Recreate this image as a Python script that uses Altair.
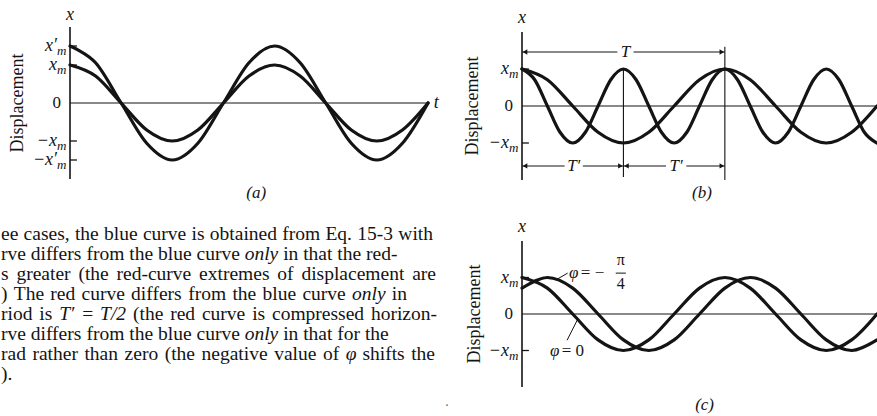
import altair as alt
import pandas as pd

INK = "#141414"
SERIF = "Liberation Serif"

# ---------------------------------------------------------------------------
# Curve samples: time in units of the period T, displacement in units of x_m
# ---------------------------------------------------------------------------
T_EIGHTHS = [0, 0.125, 0.25, 0.375, 0.5, 0.625, 0.75, 0.875, 1.0,
             1.125, 1.25, 1.375, 1.5, 1.625, 1.75]
T_SIXTEENTHS = [0, 0.0625, 0.125, 0.1875, 0.25, 0.3125, 0.375, 0.4375, 0.5,
                0.5625, 0.625, 0.6875, 0.75, 0.8125, 0.875, 0.9375, 1.0,
                1.0625, 1.125, 1.1875, 1.25, 1.3125, 1.375, 1.4375, 1.5,
                1.5625, 1.625, 1.6875, 1.75]

# (a) same period, different amplitude
A_BLUE = [1.0, 0.71, 0.0, -0.71, -1.0, -0.71, 0.0, 0.71, 1.0,
          0.71, 0.0, -0.71, -1.0, -0.71, 0.0]
A_RED = [1.5, 1.06, 0.0, -1.06, -1.5, -1.06, 0.0, 1.06, 1.5,
         1.06, 0.0, -1.06, -1.5, -1.06, 0.0]

# (b) same amplitude, period T and T' = T/2
B_BLUE = [1.0, 0.71, 0.0, -0.71, -1.0, -0.71, 0.0, 0.71, 1.0,
          0.71, 0.0, -0.71, -1.0, -0.71, 0.0]
B_RED = [1.0, 0.71, 0.0, -0.71, -1.0, -0.71, 0.0, 0.71, 1.0,
         0.71, 0.0, -0.71, -1.0, -0.71, 0.0, 0.71, 1.0,
         0.71, 0.0, -0.71, -1.0, -0.71, 0.0, 0.71, 1.0,
         0.71, 0.0, -0.71, -1.0]

# (c) phase constant 0 and -pi/4
C_PHI_ZERO = [1.0, 0.71, 0.0, -0.71, -1.0, -0.71, 0.0, 0.71, 1.0,
              0.71, 0.0, -0.71, -1.0, -0.71, 0.0]
C_PHI_QUARTER = [0.71, 1.0, 0.71, 0.0, -0.71, -1.0, -0.71, 0.0, 0.71,
                 1.0, 0.71, 0.0, -0.71, -1.0, -0.71]

# axis tick values and their labels
A_TICKS = [1.5, 1.0, -1.0, -1.5]
A_TICK_TEXT = ["x\u2032", "x", "\u2212x", "\u2212x\u2032"]
BC_TICKS = [1.0, -1.0]
BC_TICK_TEXT = ["x", "\u2212x"]

CAPTIONS = ["(a)", "(b)", "(c)"]
AXIS_TITLE = "Displacement"

# body text; words between underscores are set in italics
PARAGRAPH = [
    "ee cases, the blue curve is obtained from Eq. 15-3 with",
    "rve differs from the blue curve _only_ in that the red-",
    "s greater (the red-curve extremes of displacement are",
    ") The red curve differs from the blue curve _only_ in",
    "riod is _T\u2032_ = _T/2_ (the red curve is compressed horizon-",
    "rve differs from the blue curve _only_ in that for the",
    "rad rather than zero (the negative value of _\u03c6_ shifts the",
    ").",
]
# right edge of each set line (None: natural word spacing)
LINE_RIGHT = [433, None, 436, 407, 437, None, 435, None]


# ---------------------------------------------------------------------------
# helpers
# ---------------------------------------------------------------------------
def sc(domain, rng):
    return alt.Scale(domain=domain, range=rng, nice=False, zero=False)


def curves_frame(pairs):
    frames = []
    for name, ts, vs in pairs:
        frames.append(pd.DataFrame({"t": ts, "v": vs, "curve": name}))
    return pd.concat(frames, ignore_index=True)


def label(X, Y, t, v, s, size=17, italic=False, align="center", angle=0, **kw):
    props = dict(font=SERIF, fontSize=size, align=align, baseline="middle", color=INK)
    if italic:
        props["fontStyle"] = "italic"
    if angle:
        props["angle"] = angle
    props.update(kw)
    return alt.Chart(pd.DataFrame({"t": [t], "v": [v], "s": [s]})).mark_text(
        **props).encode(x=X, y=Y, text="s:N")


def panel(xs, ys, curves, ticks, tick_text, caption, t_cap, v_cap,
          v_xlabel, t_title, extra=None, t_label=False):
    X = alt.X("t:Q", scale=xs, axis=None)
    Y = alt.Y("v:Q", scale=ys, axis=None)

    zero = alt.Chart(pd.DataFrame({"t": [0.0], "t2": [1.75], "v": [0.0]})).mark_rule(
        color=INK, strokeWidth=1.2).encode(x=X, x2=alt.X2("t2"), y=Y)
    vaxis = alt.Chart(pd.DataFrame({"t": [0.0], "v": [-2.0], "v2": [2.0]})).mark_rule(
        color=INK, strokeWidth=1.6).encode(x=X, y=Y, y2=alt.Y2("v2"))
    tk = pd.DataFrame({"t": [0.0] * len(ticks), "t2": [0.034] * len(ticks),
                       "v": ticks, "lab": tick_text, "sub": ["m"] * len(ticks)})
    tick_marks = alt.Chart(tk).mark_rule(color=INK, strokeWidth=1.3).encode(
        x=X, x2=alt.X2("t2"), y=Y)
    tick_main = alt.Chart(tk).mark_text(
        font=SERIF, fontSize=18, fontStyle="italic", align="right",
        baseline="middle", xOffset=-13, color=INK).encode(x=X, y=Y, text="lab:N")
    tick_sub = alt.Chart(tk).mark_text(
        font=SERIF, fontSize=13, fontStyle="italic", align="left",
        baseline="middle", xOffset=-13, yOffset=5, color=INK).encode(x=X, y=Y, text="sub:N")

    layers = [
        zero, vaxis, tick_marks, tick_main, tick_sub,
        label(X, Y, 0.0, 0.0, "0", size=17, align="right", xOffset=-9),
        label(X, Y, 0.0, v_xlabel, "x", size=18, italic=True),
        label(X, Y, t_title, 0.0, AXIS_TITLE, size=18, angle=270),
        label(X, Y, t_cap, v_cap, caption, size=17, italic=True),
    ]
    if t_label:
        layers.append(label(X, Y, 1.79, 0.0, "t", size=18, italic=True))
    if extra is not None:
        layers += extra(X, Y)
    layers.append(alt.Chart(curves).mark_line(
        color=INK, strokeWidth=3.2, interpolate="cardinal", strokeCap="round").encode(
        x=X, y=Y, detail="curve:N", order="t:Q"))
    return alt.layer(*layers)


# ---------------------------------------------------------------------------
# panel (a)
# ---------------------------------------------------------------------------
AX = sc([0, 1.75], [70, 428])
AY = sc([-2, 2], [179, 27])
panel_a = panel(
    AX, AY,
    curves_frame([("blue", T_EIGHTHS, A_BLUE), ("red", T_EIGHTHS, A_RED)]),
    A_TICKS, A_TICK_TEXT, CAPTIONS[0], 0.91, -2.37, 2.32, -0.254, t_label=True)


# ---------------------------------------------------------------------------
# panel (b): period brackets T and T'
# ---------------------------------------------------------------------------
def b_extra(X, Y):
    seg = pd.DataFrame({
        "t":  [0.0, 0.55, 0.0, 0.30, 0.5, 0.81, 0.5, 1.0],
        "t2": [0.47, 1.0, 0.21, 0.5, 0.71, 1.0, 0.5, 1.0],
        "v":  [1.46, 1.46, -1.62, -1.62, -1.62, -1.62, -1.92, -2.0],
        "v2": [1.46, 1.46, -1.62, -1.62, -1.62, -1.62, 1.0, 1.6],
    })
    rules = alt.Chart(seg).mark_rule(color=INK, strokeWidth=1.1).encode(
        x=X, x2=alt.X2("t2"), y=Y, y2=alt.Y2("v2"))
    left_heads = alt.Chart(pd.DataFrame({"t": [0.0, 0.0, 0.5], "v": [1.46, -1.62, -1.62]})).mark_point(
        shape="triangle-left", filled=True, size=28, color=INK, opacity=1, xOffset=3).encode(x=X, y=Y)
    right_heads = alt.Chart(pd.DataFrame({"t": [1.0, 0.5, 1.0], "v": [1.46, -1.62, -1.62]})).mark_point(
        shape="triangle-right", filled=True, size=28, color=INK, opacity=1, xOffset=-3).encode(x=X, y=Y)
    labs = alt.Chart(pd.DataFrame({"t": [0.51, 0.255, 0.76], "v": [1.46, -1.62, -1.62],
                                   "s": ["T", "T\u2032", "T\u2032"]})).mark_text(
        font=SERIF, fontSize=17, fontStyle="italic", align="center",
        baseline="middle", color=INK).encode(x=X, y=Y, text="s:N")
    return [rules, left_heads, right_heads, labs]


BX = sc([0, 1.75], [522, 877])
BY = sc([-2, 2], [180, 32])
panel_b = panel(
    BX, BY,
    curves_frame([("blue", T_EIGHTHS, B_BLUE), ("red", T_SIXTEENTHS, B_RED)]),
    BC_TICKS, BC_TICK_TEXT, CAPTIONS[1], 0.887, -2.35, 2.38, -0.241, extra=b_extra)


# ---------------------------------------------------------------------------
# panel (c): phase-constant labels
# ---------------------------------------------------------------------------
def c_extra(X, Y):
    leaders = alt.Chart(pd.DataFrame({
        "t": [0.172, 0.222], "t2": [0.225, 0.274],
        "v": [0.95, -0.72], "v2": [1.12, -0.15]})).mark_rule(
        color=INK, strokeWidth=1.0).encode(x=X, x2=alt.X2("t2"), y=Y, y2=alt.Y2("v2"))
    return [
        leaders,
        label(X, Y, 0.232, 1.12, "\u03c6", italic=True, align="left"),
        label(X, Y, 0.290, 1.12, "= \u2212", align="left"),
        label(X, Y, 0.138, -1.0, "\u03c6", italic=True, align="left"),
        label(X, Y, 0.196, -1.0, "= 0", align="left"),
        label(X, Y, 0.487, 1.47, "\u03c0", size=16),
        label(X, Y, 0.487, 0.82, "4", size=16),
        alt.Chart(pd.DataFrame({"t": [0.462], "t2": [0.512], "v": [1.12]})).mark_rule(
            color=INK, strokeWidth=1.0).encode(x=X, x2=alt.X2("t2"), y=Y),
    ]


CX = sc([0, 1.75], [522, 877])
CY = sc([-2, 2], [387, 241])
panel_c = panel(
    CX, CY,
    curves_frame([("phi0", T_EIGHTHS, C_PHI_ZERO), ("phiq", T_EIGHTHS, C_PHI_QUARTER)]),
    BC_TICKS, BC_TICK_TEXT, CAPTIONS[2], 0.90, -2.48, 2.38, -0.232, extra=c_extra)


# ---------------------------------------------------------------------------
# body text, laid out word by word with Times metrics
# ---------------------------------------------------------------------------
ROMAN_W = {" ": 250, "(": 333, ")": 333, ",": 250, "-": 333, ".": 250, "/": 278,
           "=": 564, "E": 611, "T": 611, "a": 444, "b": 500, "c": 444, "d": 500,
           "e": 444, "f": 333, "g": 500, "h": 500, "i": 278, "l": 278, "m": 778,
           "n": 500, "o": 500, "p": 500, "q": 500, "r": 333, "s": 389, "t": 278,
           "u": 500, "v": 500, "w": 722, "x": 500, "y": 500, "z": 444}
ITALIC_W = {"o": 500, "n": 500, "l": 278, "y": 444, "T": 556, "/": 278,
            "2": 500, "\u2032": 275, "\u03c6": 520}
FONT_PX = 19.5
LEFT = 1.0
BASE, LEAD = 240.0, 20.0


def word_width(w, italic):
    table = ITALIC_W if italic else ROMAN_W
    return sum(table.get(ch, 500) for ch in w) * FONT_PX / 1000.0


rows = []
for i, line in enumerate(PARAGRAPH):
    words = []
    for k, part in enumerate(line.split("_")):
        for w in part.split():
            words.append((w, k % 2 == 1))
    widths = [word_width(w, it) for w, it in words]
    gap = ROMAN_W[" "] * FONT_PX / 1000.0
    if LINE_RIGHT[i] is not None and len(words) > 1:
        gap = (LINE_RIGHT[i] - LEFT - sum(widths)) / (len(words) - 1)
    x = LEFT
    for (w, it), wd in zip(words, widths):
        rows.append({"px": x, "py": BASE + i * LEAD, "word": w, "italic": it})
        x += wd + gap
words_df = pd.DataFrame(rows)

text_layers = []
for it, style in [(False, "normal"), (True, "italic")]:
    text_layers.append(
        alt.Chart(words_df[words_df["italic"] == it]).mark_text(
            font=SERIF, fontSize=FONT_PX, fontStyle=style, align="left",
            baseline="alphabetic", color=INK).encode(
            x=alt.X("px:Q", scale=None, axis=None),
            y=alt.Y("py:Q", scale=None, axis=None),
            text="word:N"))

speck = alt.Chart(pd.DataFrame({"s": ["."]})).mark_text(
    font=SERIF, fontSize=14, color="#666666").encode(
    x=alt.value(447), y=alt.value(402), text="s:N")

chart = alt.layer(panel_a, panel_b, panel_c, *text_layers, speck).resolve_scale(
    x="independent", y="independent"
).properties(
    width=877, height=416, padding=0, background="white",
    autosize=alt.AutoSizeParams(type="none"),
).configure_view(stroke=None)

chart.save("out.html", embed_options={"renderer": "svg", "actions": False})
